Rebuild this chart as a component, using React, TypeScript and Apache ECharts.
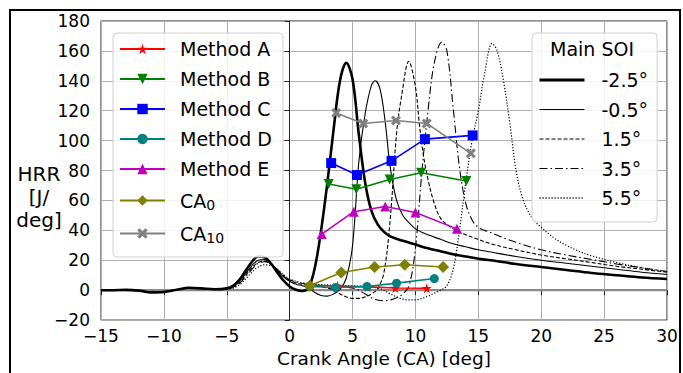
import React, { useEffect, useRef } from "react";
import * as echarts from "echarts";

// ---------- data ----------
const soiLabels = ["-2.5°", "-0.5°", "1.5°", "3.5°", "5.5°"];

const hrrSoiM25: number[][] = [
  [-15, 0], [-14, 0], [-13, 0.2], [-12, -0.3], [-11, -1.5], [-10, -1.2], [-9, 0.3], [-8, 1.6], [-7, 1.2], [-6, 0.6],
  [-5, 1.2], [-4.5, 3], [-4, 7], [-3.5, 13], [-3, 19], [-2.5, 22.5], [-2, 22], [-1.5, 18], [-1, 12], [-0.5, 6.5],
  [0, 2.5], [0.5, 0.3], [1, -0.5], [1.5, 1.5], [2, 15], [2.5, 40], [3, 72], [3.5, 108], [4, 140], [4.5, 152],
  [5, 141], [5.5, 104], [6, 72], [6.5, 53], [7, 44], [7.5, 39], [8, 36], [9, 33], [10, 30.5], [11, 28],
  [12, 26], [13, 24], [14, 22.5], [15, 21], [16, 20], [18, 17.5], [20, 15.5], [22, 13.5], [24, 11.5], [26, 10],
  [28, 8.5], [30, 7.5],
];
const hrrSoiM05: number[][] = [
  [-15, 0], [-14, 0], [-13, 0.2], [-12, -0.3], [-11, -1.3], [-10, -1], [-9, 0.3], [-8, 1.5], [-7, 1.2], [-6, 0.6],
  [-5, 1.2], [-4.5, 2.5], [-4, 6], [-3.5, 11], [-3, 16.5], [-2.5, 20], [-2, 20.5], [-1.5, 18], [-1, 13.5], [-0.5, 9],
  [0, 6], [0.5, 4], [1, 3], [1.5, 1.5], [2, -1.5], [2.5, -3.5], [3, -4], [3.5, -2.5], [4, 0.5], [4.5, 8],
  [5, 30], [5.5, 86], [6, 118], [6.5, 137], [6.8, 140], [7.2, 134], [7.6, 112], [8, 82], [8.5, 60], [9, 50],
  [9.5, 45], [10, 41], [11, 37], [12, 34], [13, 31], [14, 29], [15, 27], [16, 25.5], [18, 22.5], [20, 20],
  [22, 18], [24, 16], [26, 14], [28, 12], [30, 10.5],
];
const hrrSoiP15: number[][] = [
  [-15, 0], [-14, 0], [-13, 0.2], [-12, -0.3], [-11, -1.2], [-10, -1], [-9, 0.3], [-8, 1.4], [-7, 1.1], [-6, 0.5],
  [-5, 1], [-4.5, 2], [-4, 5], [-3.5, 10], [-3, 15], [-2.5, 18.5], [-2, 19.5], [-1.5, 17.5], [-1, 13.5], [-0.5, 9.5],
  [0, 6.5], [0.5, 5], [1, 4], [2, 3], [3, 1.5], [3.5, 0], [4, -2.5], [4.5, -4.5], [5, -5.5], [5.5, -5.5],
  [6, -4.5], [6.5, -2.5], [7, 1], [7.5, 12], [8, 48], [8.5, 105], [8.9, 130], [9.47, 153], [10, 136], [10.3, 112],
  [10.6, 92], [11, 74], [11.5, 58], [12, 48], [12.5, 44], [13, 41], [14, 37], [15, 34], [16, 31], [18, 27],
  [20, 23.5], [22, 21], [24, 18.5], [26, 16], [28, 14], [30, 12],
];
const hrrSoiP35: number[][] = [
  [-15, 0], [-14, 0], [-13, 0.2], [-12, -0.3], [-11, -1.2], [-10, -1], [-9, 0.2], [-8, 1.3], [-7, 1], [-6, 0.5],
  [-5, 0.8], [-4.5, 1.8], [-4, 4.5], [-3.5, 9], [-3, 14], [-2.5, 18], [-2, 19], [-1.5, 17.5], [-1, 14], [-0.5, 10],
  [0, 7], [1, 4.5], [2, 3.5], [3, 3], [4, 2.5], [5, 1.5], [5.5, 0], [6, -2.5], [6.5, -5], [7, -6.5],
  [7.5, -7], [8, -6.5], [8.5, -5], [9, -2.5], [9.5, 3], [10, 28], [10.5, 78], [11, 120], [11.5, 152], [12.1, 166],
  [12.5, 160], [13, 122], [13.5, 82], [14, 58], [14.5, 47], [15, 42], [15.5, 40], [16, 38.5], [17, 35], [18, 32],
  [20, 27], [22, 23.5], [24, 20.5], [26, 17.5], [28, 15], [30, 12.5],
];
const hrrSoiP55: number[][] = [
  [-15, 0], [-14, 0], [-13, 0.2], [-12, -0.3], [-11, -1.1], [-10, -0.9], [-9, 0.2], [-8, 1.2], [-7, 0.9], [-6, 0.4],
  [-5, 0.6], [-4.5, 1.3], [-4, 3.5], [-3.5, 7.5], [-3, 12], [-2.5, 15.5], [-2, 17], [-1.5, 16.5], [-1, 14], [-0.5, 10.5],
  [0, 7.5], [1, 5], [2, 4], [4, 3.2], [6, 2.5], [7, 1.5], [7.5, 0], [8, -2.5], [8.5, -4.5], [9, -6],
  [9.5, -6.5], [10, -6.5], [10.5, -5.5], [11, -4], [11.5, -2], [12, 0], [12.5, 3], [13, 14], [13.5, 40], [14, 72],
  [14.5, 100], [15, 120], [15.5, 145], [16.1, 165], [16.5, 160], [17, 140], [17.5, 112], [18, 80], [18.5, 62], [19, 52],
  [19.5, 46], [20, 42], [21, 35], [22, 30], [23, 26], [24, 23], [26, 18.5], [28, 15], [30, 12.5],
];
const hrrCurves = [hrrSoiM25, hrrSoiM05, hrrSoiP15, hrrSoiP35, hrrSoiP55];

const methodNames = ["Method A", "Method B", "Method C", "Method D", "Method E", "CA0", "CA10"];
const methodA: number[][] = [[1.7, 3], [3.8, 2.8], [6.2, 2.2], [8.4, 1.5], [10.9, 1.3]];
const methodB: number[][] = [[3.1, 71], [5.3, 67.5], [7.95, 74], [10.45, 78.5], [14.05, 73]];
const methodC: number[][] = [[3.3, 85], [5.35, 77], [8.1, 86.5], [10.75, 101], [14.55, 103.5]];
const methodD: number[][] = [[1.6, 2.5], [3.65, 1.8], [6.15, 2.5], [8.5, 4.7], [11.5, 7.8]];
const methodE: number[][] = [[2.55, 37.5], [5.1, 52.5], [7.6, 56], [10, 52], [13.3, 41]];
const ca0: number[][] = [[1.6, 2.9], [4.1, 11.8], [6.75, 15.5], [9.15, 17], [12.2, 15.5]];
const ca10: number[][] = [[3.7, 118.5], [5.85, 111.5], [8.45, 113.5], [10.9, 111.5], [14.4, 91.5]];
const methodData = [methodA, methodB, methodC, methodD, methodE, ca0, ca10];

// ---------- styling ----------
const FONT = "DejaVu Sans, sans-serif";
const hrrWidths = [2.6, 1.1, 1.1, 1.1, 1.2];
const hrrTypes: any[] = ["solid", "solid", [4, 2], [8, 3, 1.5, 3], [1.2, 1.8]];
const methodColors = ["#ff0000", "#008000", "#0000ff", "#008080", "#bf00bf", "#808000", "#808080"];
const STAR = "path://M50,0 L61,35 L98,35 L68,57 L79,91 L50,70 L21,91 L32,57 L2,35 L39,35 Z";
const XMARK = "path://M0,22 L22,0 L50,28 L78,0 L100,22 L72,50 L100,78 L78,100 L50,72 L22,100 L0,78 L28,50 Z";
const methodSymbols = [STAR, "triangle", "rect", "circle", "triangle", "diamond", XMARK];
const methodSizes = [10, 10, 10, 9, 10, 12, 10];
const methodRotate = [0, 180, 0, 0, 0, 0, 0];

export default function App() {
  const ref = useRef<HTMLDivElement>(null);
  useEffect(() => {
    if (!ref.current) return;
    const chart = echarts.init(ref.current, undefined, { renderer: "svg" });
    const minus = (v: number) => String(v).replace("-", "\u2212");

    const series: any[] = [
      {
        name: "zero",
        type: "line",
        data: [[-15, 0], [30, 0]],
        symbol: "none",
        silent: true,
        lineStyle: { color: "#8a8a8a", width: 2.2 },
        z: 1,
      },
    ];
    hrrCurves.forEach((d, i) => {
      series.push({
        name: soiLabels[i],
        type: "line",
        data: d,
        symbol: "none",
        smooth: 0.35,
        lineStyle: { color: "#000", width: hrrWidths[i], type: hrrTypes[i] },
        itemStyle: { color: "#000" },
        z: 2,
      });
    });
    methodData.forEach((d, i) => {
      series.push({
        name: methodNames[i],
        type: "line",
        data: d,
        symbol: methodSymbols[i],
        symbolSize: methodSizes[i],
        symbolRotate: methodRotate[i],
        lineStyle: { color: methodColors[i], width: 1.6 },
        itemStyle: { color: methodColors[i] },
        z: 3,
      });
    });

    const legendText = { fontSize: 19, fontFamily: FONT, color: "#000", lineHeight: 20 };
    const legendLineWidths = [3, 1.2, 1.2, 1.2, 1.3];

    chart.setOption({
      animation: false,
      grid: {
        left: 101, right: 16, top: 21, bottom: 51,
        show: true, borderColor: "#222", borderWidth: 1,
      },
      xAxis: {
        type: "value", min: -15, max: 30, interval: 5,
        name: "Crank Angle (CA) [deg]", nameLocation: "middle", nameGap: 26,
        nameTextStyle: { fontSize: 18.5, fontFamily: FONT, color: "#000" },
        axisLine: { lineStyle: { color: "#222" } },
        axisTick: { show: true, length: 5, lineStyle: { color: "#222" } },
        axisLabel: { fontSize: 17, fontFamily: FONT, color: "#000", formatter: minus, margin: 7 },
        splitLine: { show: true, lineStyle: { color: "#b0b0b0", width: 1 } },
      },
      yAxis: {
        type: "value", min: -20, max: 180, interval: 20,
        axisLine: { show: true, lineStyle: { color: "#222" } },
        axisTick: { show: true, length: 5, lineStyle: { color: "#222" } },
        axisLabel: { fontSize: 17, fontFamily: FONT, color: "#000", formatter: minus, margin: 11 },
        splitLine: { show: true, lineStyle: { color: "#b0b0b0", width: 1 } },
      },
      legend: [
        {
          data: methodNames,
          orient: "vertical",
          left: 113, top: 33,
          itemWidth: 45, itemHeight: 13, itemGap: 10,
          padding: [6, 11, 12, 6],
          backgroundColor: "rgba(255,255,255,0.85)",
          borderColor: "#d0d0d0", borderWidth: 1, borderRadius: 4,
          formatter: (name: string) =>
            name.startsWith("CA") ? `{m|CA}{s|${name.slice(2)}}` : `{m|${name}}`,
          textStyle: {
            ...legendText,
            padding: [0, 0, 0, 10],
            rich: {
              m: { ...legendText },
              s: { fontSize: 14, fontFamily: FONT, color: "#000", padding: [9, 0, 0, 0], lineHeight: 20 },
            },
          },
        },
        {
          data: soiLabels.map((n, i) => ({
            name: n,
            itemStyle: { opacity: 0 },
            lineStyle: { color: "#000", width: legendLineWidths[i], type: hrrTypes[i] },
          })),
          orient: "vertical",
          left: 532, top: 33,
          itemWidth: 45, itemHeight: 12, itemGap: 9.5,
          padding: [37, 9, 14, 6],
          backgroundColor: "rgba(255,255,255,0.85)",
          borderColor: "#d0d0d0", borderWidth: 1, borderRadius: 4,
          itemStyle: { opacity: 0 },
          textStyle: { ...legendText, padding: [0, 0, 0, 12] },
        },
      ],
      graphic: [
        {
          type: "text", left: 550, top: 39, z: 100,
          style: { text: "Main SOI", fontSize: 19, fontFamily: FONT, fill: "#000" },
        },
        {
          type: "text", x: 39, y: 197, z: 100,
          style: {
            text: "HRR\n[J/\ndeg]", fontSize: 20, fontFamily: FONT, fill: "#000",
            align: "center", verticalAlign: "middle", lineHeight: 23,
          },
        },
        {
          type: "rect", z: 100, silent: true,
          shape: { x: 10, y: 10, width: 670, height: 400 },
          style: { fill: "none", stroke: "#000", lineWidth: 2 },
        },
      ],
      series,
    });
    return () => chart.dispose();
  }, []);
  return (
    <div
      ref={ref}
      style={{ position: "fixed", left: 0, top: 0, width: 683, height: 373, background: "#fff" }}
    />
  );
}
